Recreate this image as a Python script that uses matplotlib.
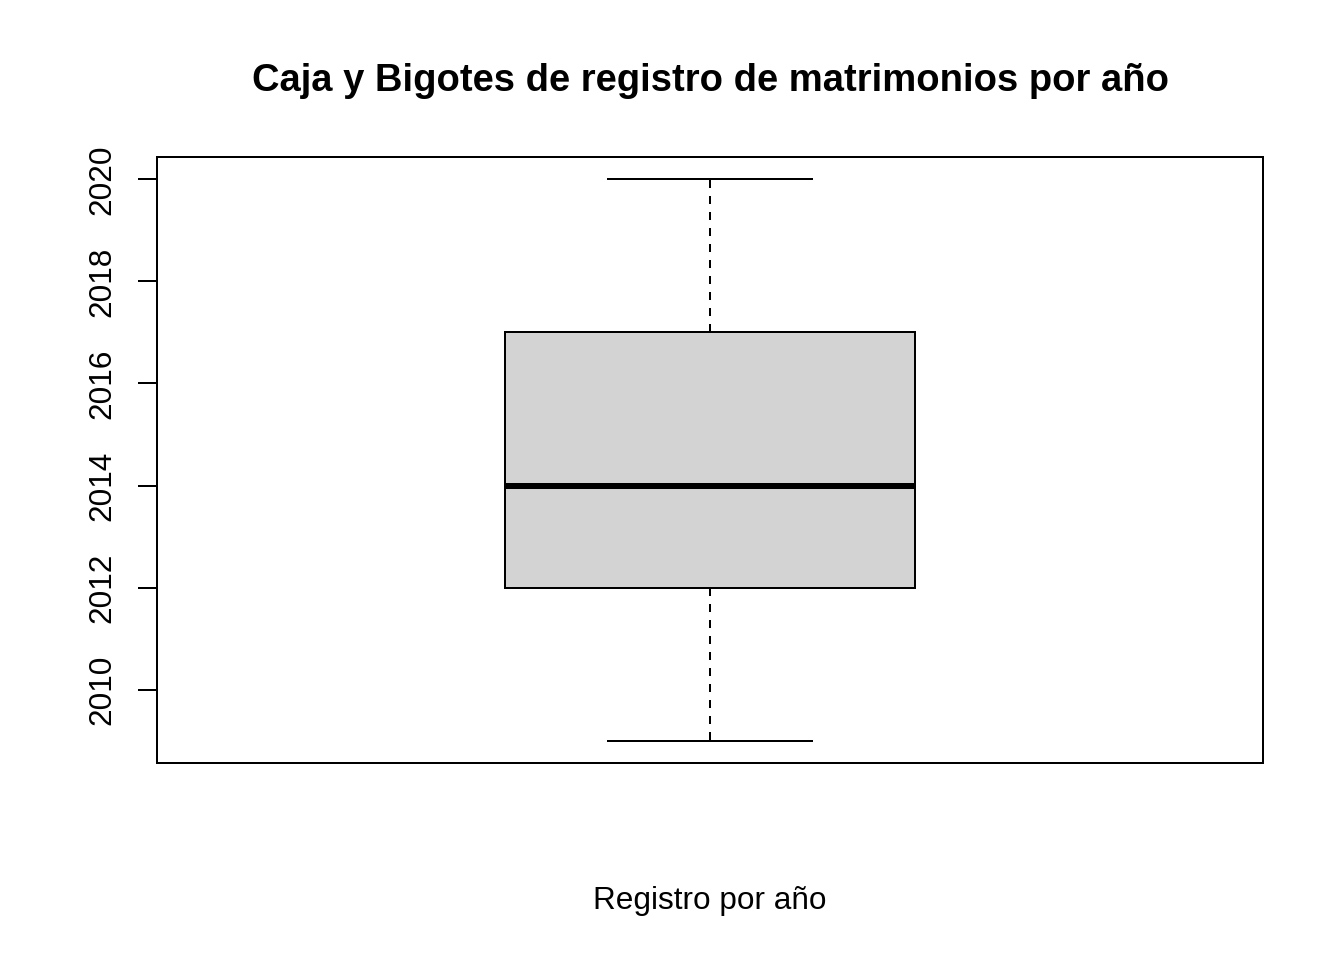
import matplotlib
matplotlib.use("Agg")
import matplotlib.pyplot as plt

# resumen de cinco números (años)
etiqueta = "Registro por año"
minimo = 2009
q1 = 2012
mediana = 2014
q3 = 2017
maximo = 2020
ticks_y = [2010, 2012, 2014, 2016, 2018, 2020]

plt.rcParams['font.family'] = ['Liberation Sans', 'DejaVu Sans']

fig = plt.figure(figsize=(7, 5), dpi=192)
ax = fig.add_axes([157/1344, 1 - 763/960, (1263-157)/1344, (763-157)/960])

stats = [{'whislo': minimo, 'q1': q1, 'med': mediana, 'q3': q3,
          'whishi': maximo, 'fliers': [], 'label': etiqueta}]
ax.bxp(stats, positions=[1], widths=0.4, patch_artist=True, showfliers=False,
       boxprops=dict(facecolor='#D3D3D3', edgecolor='black', linewidth=0.75),
       medianprops=dict(color='black', linewidth=2.25, solid_capstyle='butt'),
       whiskerprops=dict(color='black', linewidth=0.75, linestyle=(0, (4, 4))),
       capprops=dict(color='black', linewidth=0.75), capwidths=0.2)

rango = maximo - minimo
ax.set_xlim(0.46, 1.54)
ax.set_ylim(minimo - 0.04 * rango, maximo + 0.04 * rango)
ax.set_xticks([])
ax.set_yticks(ticks_y)
ax.set_yticklabels([str(t) for t in ticks_y], rotation=90, va='center', fontsize=11.8)
ax.tick_params(axis='y', length=7.2, width=0.75, pad=7.8)
for s in ax.spines.values():
    s.set_linewidth(0.75)

fig.text(710/1344, 1 - 81/960, "Caja y Bigotes de registro de matrimonios por año",
         ha='center', va='center', fontsize=14.3, fontweight='bold')
fig.text(710/1344, 1 - 901/960, etiqueta, ha='center', va='center', fontsize=11.8)

fig.savefig("out.png", dpi=192)
